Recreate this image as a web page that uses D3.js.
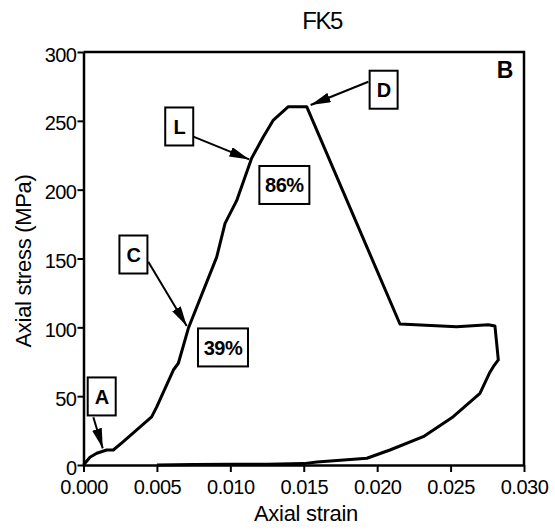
<!DOCTYPE html>
<html>
<head>
<meta charset="utf-8">
<script src="https://cdn.jsdelivr.net/npm/d3@7"></script>
<style>
  body { margin: 0; background: #fff; }
  svg { display: block; }
  text { font-family: "Liberation Sans", Arial, Helvetica, sans-serif; }
</style>
</head>
<body>
<div id="chart"></div>
<script>
const title = 'FK5';
const panelLabel = 'B';
const xLabel = 'Axial strain';
const yLabel = 'Axial stress (MPa)';

const xTicks = [0, 0.005, 0.010, 0.015, 0.020, 0.025, 0.030];
const yTicks = [0, 50, 100, 150, 200, 250, 300];

// stress-strain path (loading, post-peak, unloading)
const strain = [0, 0.00044, 0.0009, 0.00158, 0.00203, 0.00271, 0.00464, 0.00498, 0.00612, 0.00646,
  0.00714, 0.00907, 0.00964, 0.01043, 0.01145, 0.01225, 0.01293, 0.01395, 0.0152, 0.02155,
  0.02541, 0.02757, 0.02802, 0.02825, 0.02791, 0.02764, 0.027, 0.02518, 0.02314, 0.02087,
  0.0193, 0.0175, 0.0159, 0.0150, 0.0125, 0.010, 0.0075, 0.005];
const stress = [0, 5.6, 8.5, 10.9, 10.9, 17, 35, 42, 69, 73.9,
  99.3, 151, 175.5, 192, 222.8, 238.5, 250.6, 260.3, 260.3, 102.4,
  100.5, 101.9, 101, 76.3, 71.4, 66.6, 52.1, 35.1, 20.6, 10.9,
  4.9, 3.5, 2.2, 1, 0.5, 0.5, 0.3, 0];

// annotation boxes (centre in data units) and their arrows
const noteText = ['A', 'C', 'L', 'D', '86%', '39%'];
const noteStrain = [0.00124, 0.0034, 0.00652, 0.02044, 0.01368, 0.0095];
const noteStress = [49.8, 152.9, 245.9, 272.6, 203.4, 85.4];
const arrowFromStrain = [0.00067, 0.00441, 0.00748, 0.0194, null, null];
const arrowFromStress = [34.7, 147.7, 238.5, 278.4, null, null];
const arrowToStrain = [0.00131, 0.00703, 0.01129, 0.01547, null, null];
const arrowToStress = [12.1, 101, 222, 261.5, null, null];

const width = 555;
const height = 531;

const svg = d3.select('#chart').append('svg')
  .attr('width', width)
  .attr('height', height);

const x = d3.scaleLinear().domain([0, 0.03]).range([83.5, 524]);
const y = d3.scaleLinear().domain([0, 300]).range([465, 52]);

// frame (top + right)
svg.append('path')
  .attr('d', `M${x(0)},${y(300)}H${x(0.03)}V${y(0)}`)
  .attr('fill', 'none')
  .attr('stroke', '#000')
  .attr('stroke-width', 2.5);

// x axis
const xAxis = svg.append('g')
  .attr('transform', `translate(0,${y(0)})`)
  .call(d3.axisBottom(x)
    .tickValues(xTicks)
    .tickFormat(d3.format('.3f'))
    .tickSize(7)
    .tickPadding(8)
    .tickSizeOuter(0));

// y axis
const yAxis = svg.append('g')
  .attr('transform', `translate(${x(0)},0)`)
  .call(d3.axisLeft(y)
    .tickValues(yTicks)
    .tickSize(6)
    .tickPadding(1)
    .tickSizeOuter(0));

[xAxis, yAxis].forEach((g) => {
  g.attr('font-size', null).attr('font-family', null);
  g.select('.domain').attr('stroke-width', 2.5);
  g.selectAll('.tick line').attr('stroke-width', 2);
  g.selectAll('.tick text')
    .attr('font-size', 20)
    .attr('letter-spacing', '-0.5px')
    .attr('fill', '#000');
});
yAxis.selectAll('.tick text').attr('dy', '0.45em');

// curve
const line = d3.line()
  .x((d) => x(d[0]))
  .y((d) => y(d[1]));

svg.append('path')
  .datum(strain.map((s, i) => [s, stress[i]]))
  .attr('d', line)
  .attr('fill', 'none')
  .attr('stroke', '#000')
  .attr('stroke-width', 3)
  .attr('stroke-linejoin', 'round');

// arrowhead
svg.append('defs').append('marker')
  .attr('id', 'head')
  .attr('viewBox', '0 -5 20 10')
  .attr('refX', 20)
  .attr('refY', 0)
  .attr('markerUnits', 'userSpaceOnUse')
  .attr('markerWidth', 20)
  .attr('markerHeight', 10)
  .attr('orient', 'auto')
  .append('path')
  .attr('d', 'M0,-5L20,0L0,5Z')
  .attr('fill', '#000');

const notes = noteText.map((t, i) => ({
  text: t,
  cx: x(noteStrain[i]),
  cy: y(noteStress[i]),
  from: arrowFromStrain[i] == null ? null : [x(arrowFromStrain[i]), y(arrowFromStress[i])],
  to: arrowToStrain[i] == null ? null : [x(arrowToStrain[i]), y(arrowToStress[i])]
}));

svg.selectAll('line.arrow')
  .data(notes.filter((d) => d.from))
  .join('line')
  .attr('class', 'arrow')
  .attr('x1', (d) => d.from[0])
  .attr('y1', (d) => d.from[1])
  .attr('x2', (d) => d.to[0])
  .attr('y2', (d) => d.to[1])
  .attr('stroke', '#000')
  .attr('stroke-width', 2)
  .attr('marker-end', 'url(#head)');

const noteG = svg.selectAll('g.note')
  .data(notes)
  .join('g')
  .attr('class', 'note')
  .attr('transform', (d) => `translate(${d.cx},${d.cy})`);

noteG.append('rect')
  .attr('x', (d) => (d.text.length > 1 ? -25 : -14))
  .attr('y', -19)
  .attr('width', (d) => (d.text.length > 1 ? 50 : 28))
  .attr('height', 38)
  .attr('fill', '#fff')
  .attr('stroke', '#000')
  .attr('stroke-width', 2);

noteG.append('text')
  .attr('text-anchor', 'middle')
  .attr('dy', '0.36em')
  .attr('font-size', 20)
  .attr('font-weight', 'bold')
  .attr('letter-spacing', '-0.5px')
  .text((d) => d.text);

// panel label
svg.append('text')
  .attr('x', x(0.02871))
  .attr('y', y(286.9))
  .attr('dy', '0.36em')
  .attr('text-anchor', 'middle')
  .attr('font-size', 23)
  .attr('font-weight', 'bold')
  .text(panelLabel);

// title
svg.append('text')
  .attr('x', 322)
  .attr('y', 29)
  .attr('text-anchor', 'middle')
  .attr('font-size', 24)
  .attr('letter-spacing', '-1.5px')
  .text(title);

// axis titles
svg.append('text')
  .attr('x', 306)
  .attr('y', 521)
  .attr('text-anchor', 'middle')
  .attr('font-size', 22)
  .attr('letter-spacing', '-0.3px')
  .text(xLabel);

svg.append('text')
  .attr('transform', 'translate(31,261) rotate(-90)')
  .attr('text-anchor', 'middle')
  .attr('font-size', 22)
  .attr('letter-spacing', '-0.3px')
  .text(yLabel);
</script>
</body>
</html>
